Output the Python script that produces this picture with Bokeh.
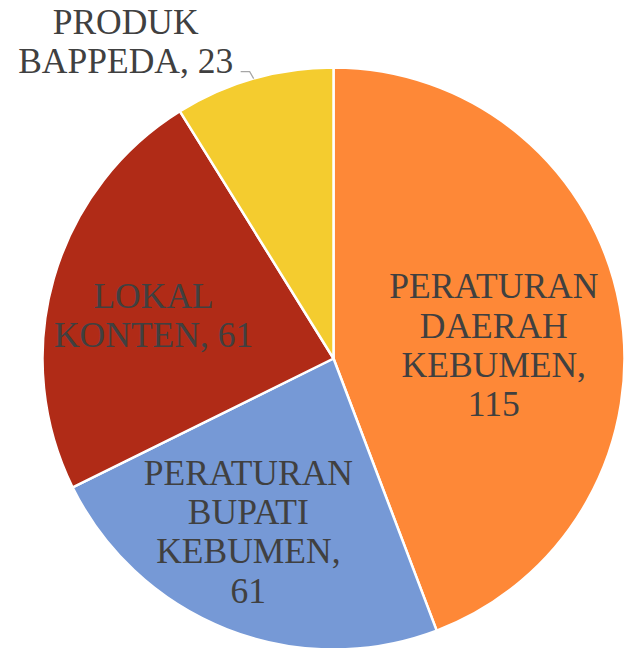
import numpy as np
import textwrap
from bokeh.plotting import figure
from bokeh.models import Range1d, ColumnDataSource
from bokeh.core.properties import value
from bokeh.embed import file_html
from bokeh.resources import INLINE

# ---- data ----
categories = ["PERATURAN DAERAH KEBUMEN", "PERATURAN BUPATI KEBUMEN", "LOKAL KONTEN", "PRODUK BAPPEDA"]
values = [115, 61, 61, 23]
colors = ["#FE8837", "#7699D6", "#B02B17", "#F4CC2F"]

# ---- layout / style ----
W, H = 626, 648
X0, Y0 = 0, 0  # figure top-left in picture pixels
wrap_width = [10, 10, 10, 11]
label_r_frac = [0.56, 0.64, 0.643, None]
label_nudge = [(0, -16), (-17, 0), (0, -8), None]
FONT = "'Liberation Serif', serif"
FSIZE = "35.5px"
TXT = "#404040"

total = float(sum(values))
frac = np.array(values) / total
cum = np.cumsum(frac)
starts = np.pi / 2 - 2 * np.pi * np.concatenate([[0], cum[:-1]])
ends = np.pi / 2 - 2 * np.pi * cum
mids = (starts + ends) / 2

cx, cy, R = 333.0, 290.0, 291.0

p = figure(width=W, height=H, output_backend="svg", toolbar_location=None,
           x_range=Range1d(X0, X0 + W), y_range=Range1d(648 - Y0 - H, 648 - Y0),
           x_axis_type=None, y_axis_type=None, min_border=0,
           outline_line_color=None, background_fill_color="white",
           border_fill_color="white")
p.grid.visible = False

src = ColumnDataSource(dict(start=starts, end=ends, color=colors,
                            cat=categories, val=values))
p.wedge(x=cx, y=cy, radius=R, start_angle="start", end_angle="end",
        direction="clock", fill_color="color", line_color="white",
        line_width=2.5, source=src)

labels = ["\n".join(textwrap.wrap(f"{c}, {v}", w)) for c, v, w in zip(categories, values, wrap_width)]

lx, ly, lt = [], [], []
for i in range(3):
    r = label_r_frac[i] * R
    lx.append(cx + r * np.cos(mids[i]) + label_nudge[i][0])
    ly.append(cy + r * np.sin(mids[i]) + label_nudge[i][1])
    lt.append(labels[i])

# outside label for the small slice, with leader line
ex = cx + R * np.cos(mids[3])
ey = cy + R * np.sin(mids[3])
p.line([ex, ex - 4, ex - 13], [ey, ey + 7, ey + 7], line_color="#A6A6A6", line_width=1.2)
lx.append(ex - 128)
ly.append(ey + 37.5)
lt.append(labels[3])

p.text(x=lx, y=ly, text=lt, text_font=value(FONT), text_font_size=FSIZE,
       text_color=TXT, text_align="center", text_baseline="middle",
       text_line_height=0.98)

open("out.html", "w").write(file_html(p, INLINE))
